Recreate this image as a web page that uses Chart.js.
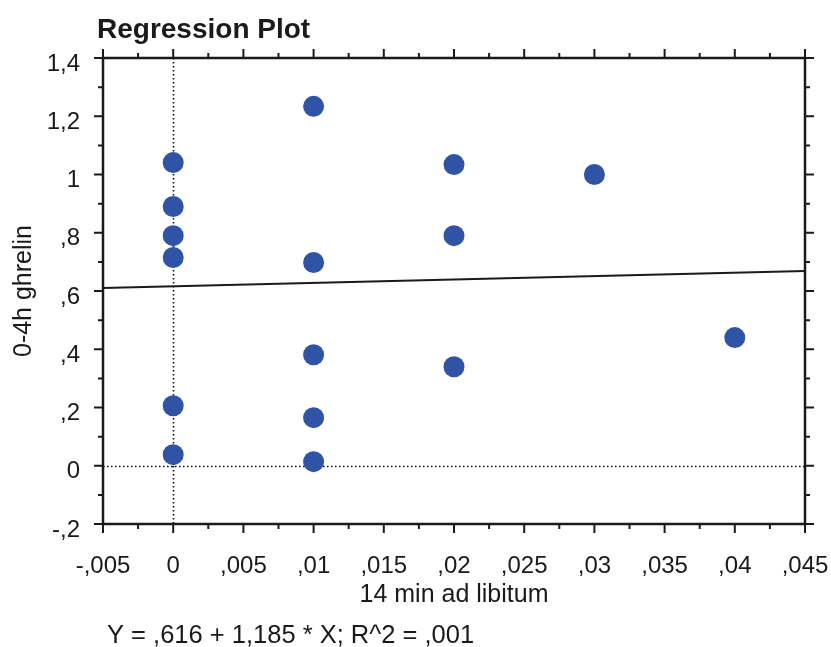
<!DOCTYPE html>
<html>
<head>
<meta charset="utf-8">
<script src="https://cdn.jsdelivr.net/npm/chart.js@4"></script>
<style>
  html, body { margin: 0; padding: 0; background: #fff; }
  #wrap { width: 831px; height: 647px; position: relative; }
</style>
</head>
<body>
<div id="wrap"><canvas id="chart" width="831" height="647"></canvas></div>
<script>
// ── Data ──────────────────────────────────────────────────
const xValues = [0, 0, 0, 0, 0, 0, 0.01, 0.01, 0.01, 0.01, 0.01, 0.02, 0.02, 0.02, 0.03, 0.04];
const yValues = [1.041, 0.890, 0.790, 0.715, 0.206, 0.038, 1.234, 0.698, 0.381, 0.165, 0.014, 1.034, 0.790, 0.340, 1.000, 0.440];
const fitX = [-0.005, 0.045];
const fitY = [0.610, 0.669];
const xTicks = [-0.005, 0, 0.005, 0.01, 0.015, 0.02, 0.025, 0.03, 0.035, 0.04, 0.045];
const yTicks = [-0.2, 0, 0.2, 0.4, 0.6, 0.8, 1, 1.2, 1.4];

const titleText = "Regression Plot";
const equationText = "Y = ,616 + 1,185 * X; R^2 = ,001";

const FONT = "'Liberation Sans', Arial, sans-serif";

// format like 0,005 -> ,005
function fmt(v) {
  const r = Math.round(v * 10000) / 10000;
  if (r === 0) return "0";
  let s = String(Math.abs(r)).replace(".", ",");
  if (s.startsWith("0,")) s = s.slice(1);
  return (r < 0 ? "-" : "") + s;
}

// ── Frame, minor ticks, zero lines, title, equation ───────
const framePlugin = {
  id: "frame",
  beforeDatasetsDraw(chart) {
    const { ctx, chartArea: a, scales: { x, y } } = chart;
    ctx.save();
    ctx.strokeStyle = "#111";
    ctx.lineWidth = 1.6;
    ctx.setLineDash([1.6, 2.4]);
    const x0 = Math.round(x.getPixelForValue(0)) + 0.5;
    const y0 = Math.round(y.getPixelForValue(0)) + 0.5;
    ctx.beginPath();
    ctx.moveTo(x0, a.top); ctx.lineTo(x0, a.bottom);
    ctx.moveTo(a.left, y0); ctx.lineTo(a.right, y0);
    ctx.stroke();
    ctx.restore();
  },
  afterDraw(chart) {
    const { ctx, chartArea: a, scales: { x, y } } = chart;
    ctx.save();
    ctx.strokeStyle = "#1a1a1a";
    ctx.lineWidth = 2.5;
    ctx.setLineDash([]);
    ctx.strokeRect(a.left, a.top, a.right - a.left, a.bottom - a.top);

    ctx.lineWidth = 2;
    ctx.beginPath();
    for (let i = 0; i < xTicks.length; i++) {
      const px = x.getPixelForValue(xTicks[i]);
      ctx.moveTo(px, a.bottom); ctx.lineTo(px, a.bottom + 9);
      ctx.moveTo(px, a.top); ctx.lineTo(px, a.top - 9);
      if (i < xTicks.length - 1) {
        const pm = x.getPixelForValue((xTicks[i] + xTicks[i + 1]) / 2);
        ctx.moveTo(pm, a.bottom); ctx.lineTo(pm, a.bottom + 5);
        ctx.moveTo(pm, a.top); ctx.lineTo(pm, a.top - 5);
      }
    }
    for (let i = 0; i < yTicks.length; i++) {
      const py = y.getPixelForValue(yTicks[i]);
      ctx.moveTo(a.left, py); ctx.lineTo(a.left - 9, py);
      ctx.moveTo(a.right, py); ctx.lineTo(a.right + 9, py);
      if (i < yTicks.length - 1) {
        const pm = y.getPixelForValue((yTicks[i] + yTicks[i + 1]) / 2);
        ctx.moveTo(a.left, pm); ctx.lineTo(a.left - 5, pm);
        ctx.moveTo(a.right, pm); ctx.lineTo(a.right + 5, pm);
      }
    }
    ctx.stroke();

    ctx.fillStyle = "#1a1a1a";
    ctx.textBaseline = "alphabetic";
    ctx.textAlign = "left";
    ctx.font = "bold 28px " + FONT;
    ctx.fillText(titleText, 97, 38);
    ctx.font = "25.5px " + FONT;
    ctx.fillText(equationText, 107, 643);
    ctx.restore();
  }
};

const noSidePad = (s) => { s.paddingLeft = 0; s.paddingRight = 0; };

new Chart(document.getElementById("chart"), {
  data: {
    datasets: [
      {
        type: "scatter",
        data: xValues.map((v, i) => ({ x: v, y: yValues[i] })),
        backgroundColor: "#2F53A5",
        borderColor: "#2F53A5",
        pointRadius: 10.5,
        pointHoverRadius: 10.5,
        borderWidth: 0,
        order: 1,
      },
      {
        type: "line",
        data: fitX.map((v, i) => ({ x: v, y: fitY[i] })),
        borderColor: "#1a1a1a",
        borderWidth: 2,
        pointRadius: 0,
        fill: false,
        order: 2,
      },
    ],
  },
  options: {
    responsive: false,
    animation: false,
    devicePixelRatio: 1,
    layout: { padding: { top: 58, right: 26, left: 0, bottom: 0 } },
    plugins: { legend: { display: false }, tooltip: { enabled: false }, title: { display: false } },
    scales: {
      x: {
        type: "linear",
        min: -0.005,
        max: 0.045,
        afterFit: (s) => { s.height = 123; noSidePad(s); },
        afterBuildTicks: (s) => { s.ticks = xTicks.map(v => ({ value: v })); },
        grid: { display: false },
        border: { display: false },
        ticks: {
          color: "#1a1a1a",
          font: { family: FONT, size: 24 },
          padding: 20,
          maxRotation: 0,
          autoSkip: false,
          callback: (v) => fmt(v),
        },
        title: {
          display: true,
          text: "14 min ad libitum",
          color: "#1a1a1a",
          font: { family: FONT, size: 25 },
          padding: { top: 0, bottom: 37 },
        },
      },
      y: {
        type: "linear",
        min: -0.2,
        max: 1.4,
        afterFit: (s) => { s.width = 103; },
        afterBuildTicks: (s) => { s.ticks = yTicks.map(v => ({ value: v })); },
        grid: { display: false },
        border: { display: false },
        ticks: {
          color: "#1a1a1a",
          font: { family: FONT, size: 24 },
          padding: 15,
          labelOffset: 6,
          autoSkip: false,
          callback: (v) => fmt(v),
        },
        title: {
          display: true,
          text: "0-4h ghrelin",
          color: "#1a1a1a",
          font: { family: FONT, size: 25 },
          padding: { top: 9, bottom: 0 },
        },
      },
    },
  },
  plugins: [framePlugin],
});
</script>
</body>
</html>
